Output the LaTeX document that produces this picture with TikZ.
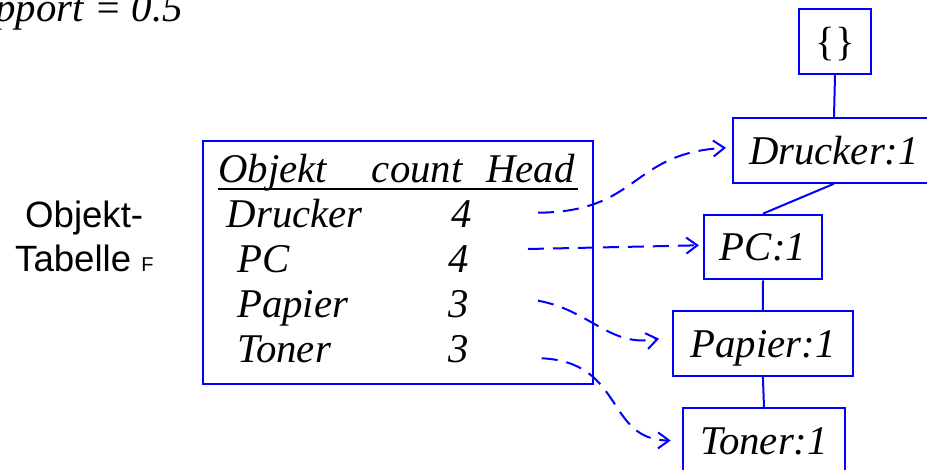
\documentclass[tikz,border=0pt]{standalone}
\usepackage{fontspec}
\setmainfont{Liberation Serif}
\newfontfamily\labelsans{Liberation Sans}
\usetikzlibrary{arrows.meta}
\begin{document}
\begin{tikzpicture}[x=1pt,y=-1pt,
  big/.style={font=\fontsize{40.8}{48}\selectfont\itshape, inner sep=0pt},
  cell/.style={big, anchor=base west},
  rbox/.style={draw=blue, line width=2pt, inner sep=0pt, minimum height=64.7pt,
    font=\fontsize{40.8}{48}\selectfont\itshape, text height=27.6pt, text depth=0pt},
  tree/.style={draw=blue, line width=2pt},
  ptr/.style={draw=blue, line width=2pt, dash pattern=on 16pt off 9pt,
    -{Straight Barb[length=11pt,width=16pt,line width=2pt]}},
  side/.style={font=\labelsans\fontsize{36.6}{44}\selectfont, inner sep=0pt, anchor=base west}
]
\useasboundingbox (0,0) rectangle (927,470);

% title (cut at the left edge)
\node[big, anchor=base east] (title) at (183,22) {pport = 0.5};

% side label
\node[side] (lab1) at (25,227.7) {Objekt-};
\node[side] (lab2) at (15,271.7) {Tabelle {\fontsize{20}{22}\selectfont F}};

% table frame
\node[draw=blue, line width=2pt, minimum width=390.6pt, minimum height=243.3pt, inner sep=0pt]
  (tbl) at (398,262.7) {};

% header
\node[cell] (hObj) at (218,183) {Objekt};
\node[cell] (hCnt) at (371.7,183) {count};
\node[cell] (hHead) at (486,183) {Head};
\draw[line width=2.3pt] (218,189.3) -- (578,189.3);

% rows
\node[cell] (n1) at (226.7,228) {Drucker};
\node[cell] (c1) at (451.7,228) {4};
\node[cell] (n2) at (237,273) {PC};
\node[cell] (c2) at (448.5,273) {4};
\node[cell] (n3) at (237,318) {Papier};
\node[cell] (c3) at (448.5,318) {3};
\node[cell] (n4) at (237,363) {Toner};
\node[cell] (c4) at (448.5,363) {3};

% pointer starts
\coordinate (r1) at (538,212.7);
\coordinate (r2) at (528,249);
\coordinate (r3) at (538,300.7);
\coordinate (r4) at (541.7,358.3);

% tree
\node[rbox, minimum width=72.6pt] (root) at (835,41.7) {\upshape\{\}};
\node[rbox, minimum width=202pt] (drucker) at (834,150.4) {Drucker:1};
\node[rbox, minimum width=118pt] (pc) at (763,247) {PC:1};
\node[rbox, minimum width=179.7pt] (papier) at (762.9,343.5) {Papier:1};
\node[rbox, minimum width=161.4pt] (toner) at (764,440.5) {Toner:1};

\draw[tree] (root.south) -- (drucker.north);
\draw[tree] (drucker.south) -- (pc.north);
\draw[tree] (pc.south) -- (papier.north);
\draw[tree] (papier.south) -- (toner.north);

% pointers
\draw[ptr] (r1) .. controls (640,212) and (630,153) .. ([xshift=-6pt,yshift=2.6pt]drucker.west);
\draw[ptr] (r2) -- ([xshift=-4pt,yshift=1.7pt]pc.west);
\draw[ptr] (r3) .. controls (590,310) and (610,348) .. ([xshift=-13pt,yshift=4.8pt]papier.west);
\draw[ptr] (r4) .. controls (625,362) and (605,440) .. ([xshift=-11.6pt]toner.west);
\end{tikzpicture}
\end{document}
